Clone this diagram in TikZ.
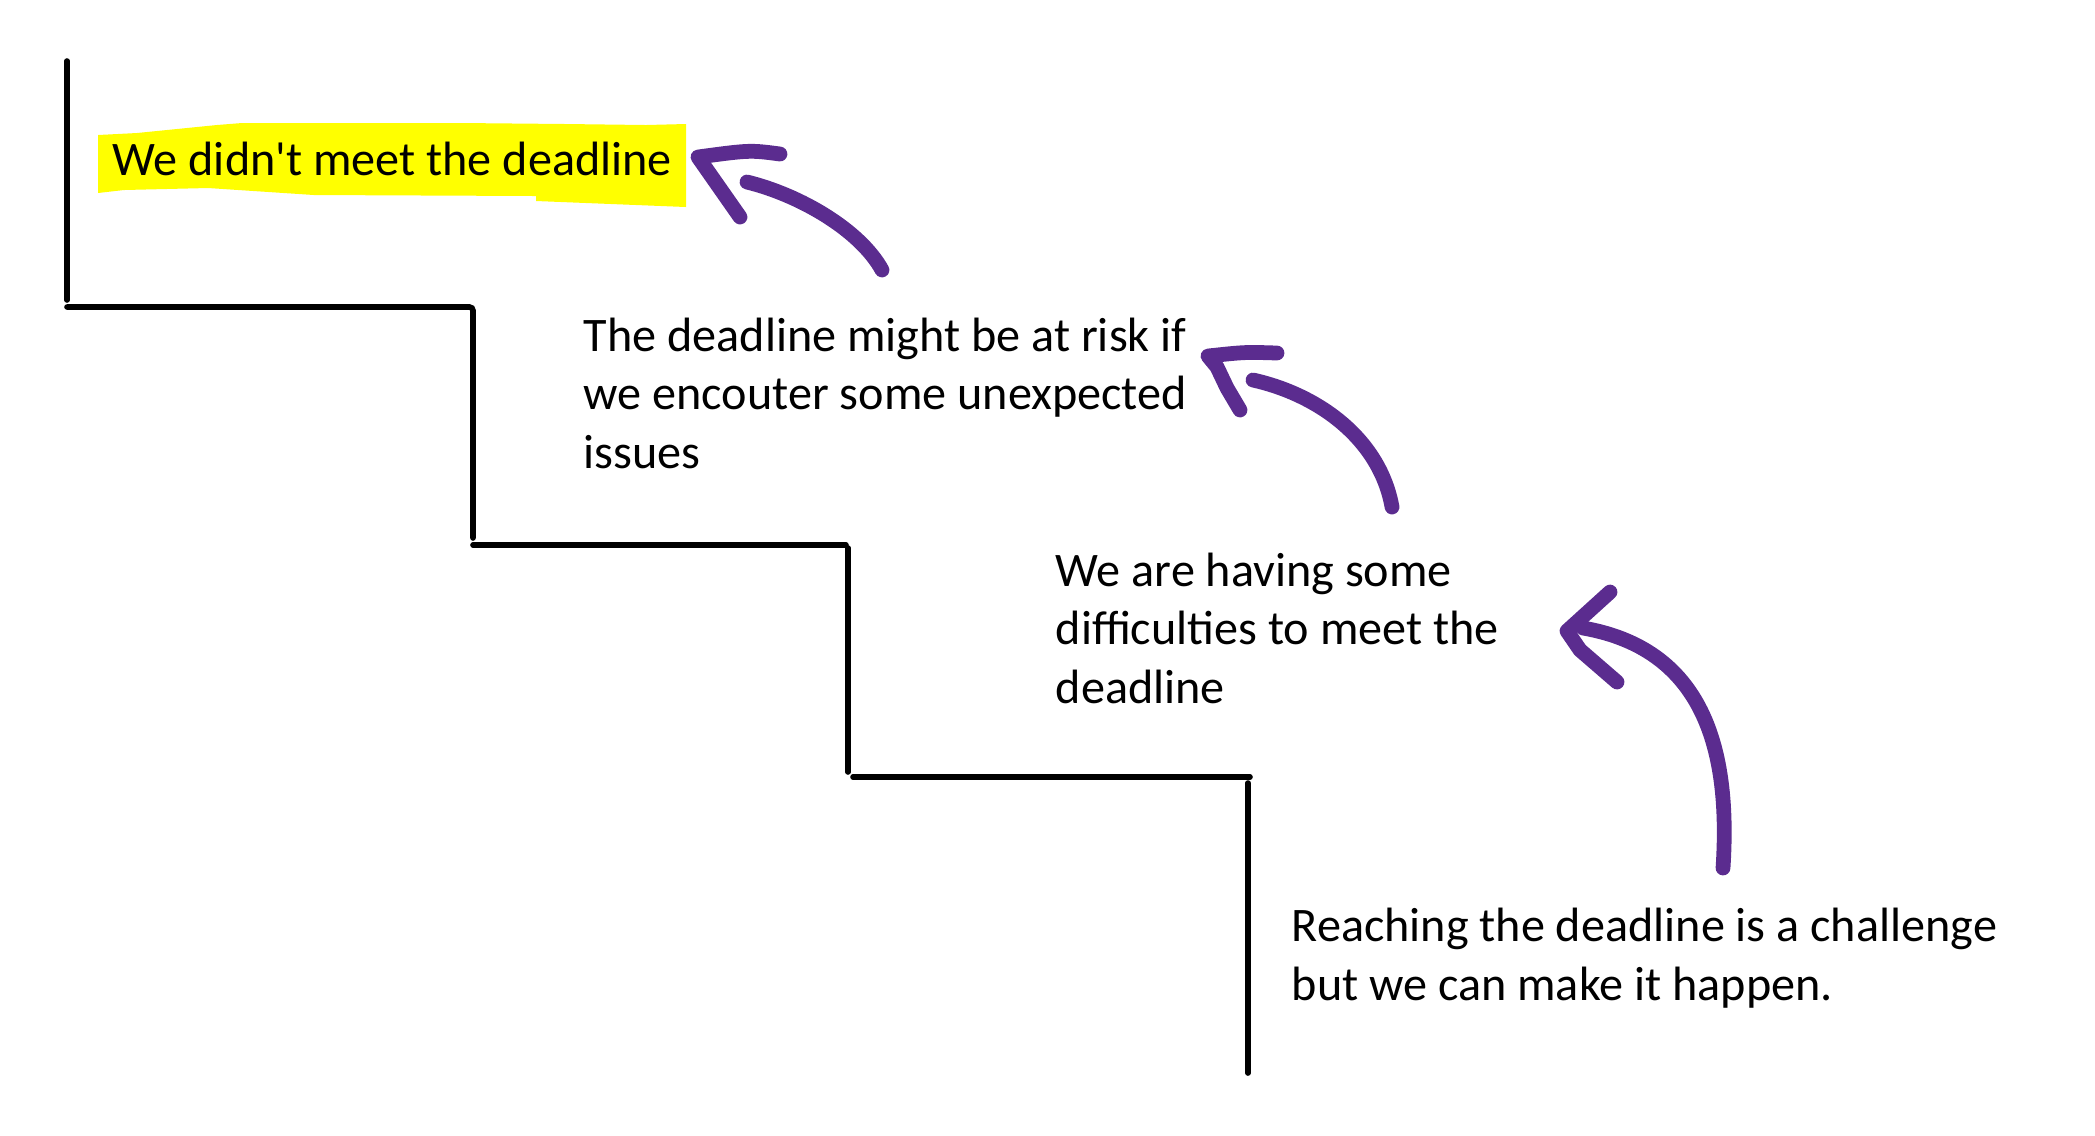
\documentclass[tikz,border=0pt]{standalone}
\usepackage{fontspec}
\newfontfamily\notefont{Carlito}
\definecolor{penpurple}{RGB}{91,44,143}
\definecolor{marker}{RGB}{255,255,0}
\begin{document}
\begin{tikzpicture}[x = .01cm, y = -.01cm,
	stair/.style = {line width = 1.6pt, line cap = round},
	pen/.style = {penpurple, line width = 4.2pt, line cap = round, line join = round},
	note/.style = {anchor = base west, inner sep = 0, align = left, font = \notefont\fontsize{13.7}{16.6}\selectfont}]
	\useasboundingbox (0,0) rectangle (2095,1135);
	\fill[marker] (98,135) -- (137,133) -- (217,125) -- (242,123) -- (461,123) -- (566,124) -- (646,125) -- (686,124)
		-- (686,207) -- (536,201) -- (536,196) -- (314,195) -- (208,188) -- (124,190) -- (98,193) -- cycle; %highlight
	\draw[stair] (67,61) -- (67,300); %top riser
	\draw[stair, rounded corners = 1pt] (67,307) -- (473,307) -- (473,538);
	\draw[stair] (473,545) -- (846,545);
	\draw[stair] (848,548) -- (848,772);
	\draw[stair] (853,777) -- (1250,777);
	\draw[stair] (1248,783) -- (1248,1073); %bottom riser
	\node[note] (missed) at (112,175) {We didn't meet the deadline};
	\node[note] (risk) at (583,468) {The deadline might be at risk if\\we encouter some unexpected\\issues};
	\node[note] (trouble) at (1055,703) {We are having some\\difficulties to meet the\\deadline};
	\node[note] (reach) at (1291,1000) {Reaching the deadline is a challenge\\but we can make it happen.};
	\draw[pen] (882,270) .. controls (860,230) and (800,195) .. (747,182); %arrow 1
	\draw[pen] (780,154) .. controls (750,150) .. (698,157) -- (740,217);
	\draw[pen] (1392,507) .. controls (1380,440) and (1320,395) .. (1253,380); %arrow 2
	\draw[pen] (1277,353) .. controls (1245,352) .. (1208,356) -- (1217,367) -- (1227,388) -- (1240,410);
	\draw[pen] (1723,868) .. controls (1730,760) and (1710,650) .. (1583,628); %arrow 3
	\draw[pen] (1610,592) -- (1567,631) -- (1580,650) -- (1617,682);
\end{tikzpicture}
\end{document}
